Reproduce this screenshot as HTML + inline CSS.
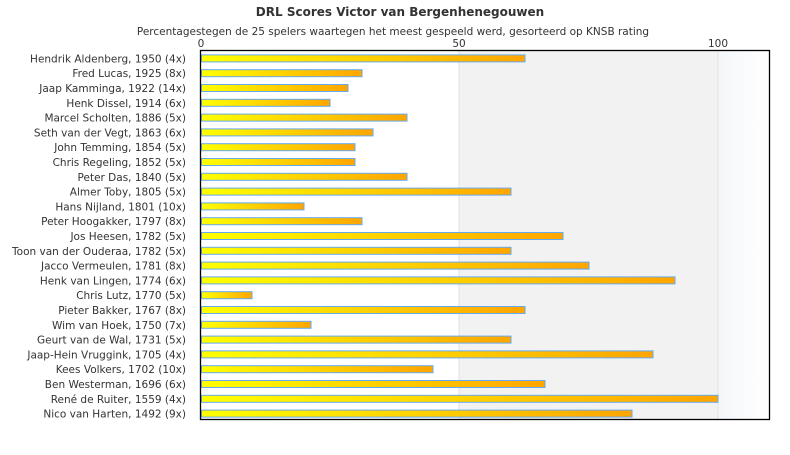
<!DOCTYPE html>
<html><head><meta charset="utf-8"><style>
body{margin:0;background:#fff;}
svg text{font-family:"DejaVu Sans","Liberation Sans",sans-serif;}
</style></head><body>
<svg width="790" height="450" xmlns="http://www.w3.org/2000/svg">
<defs>
<linearGradient id="g" x1="0" x2="1" y1="0" y2="0"><stop offset="0" stop-color="#ffff00"/><stop offset="1" stop-color="#ffa500"/></linearGradient>
<linearGradient id="b" x1="0" x2="1" y1="0" y2="0"><stop offset="0" stop-color="#f4f7fa"/><stop offset="1" stop-color="#ffffff"/></linearGradient>
</defs>
<text x="400" y="16" font-size="12" font-weight="bold" text-anchor="middle" fill="#333">DRL Scores Victor van Bergenhenegouwen</text>
<text x="393" y="35" font-size="10.5" text-anchor="middle" fill="#333">Percentagestegen de 25 spelers waartegen het meest gespeeld werd, gesorteerd op KNSB rating</text>
<rect x="459" y="50" width="259" height="370" fill="#f2f2f2"/>
<rect x="718" y="50" width="52" height="370" fill="url(#b)"/>
<line x1="459" y1="50" x2="459" y2="420" stroke="#e0e0e0"/>
<line x1="718" y1="50" x2="718" y2="420" stroke="#e0e0e0"/>
<text x="201" y="47" font-size="10.5" text-anchor="middle" fill="#333">0</text>
<text x="459" y="47" font-size="10.5" text-anchor="middle" fill="#333">50</text>
<text x="718" y="47" font-size="10.5" text-anchor="middle" fill="#333">100</text>
<g id="bars" font-size="10.5" fill="#333" text-anchor="end"></g>
<rect x="200.5" y="50.5" width="569" height="369" fill="none" stroke="#000" stroke-width="1.3"/>
</svg>
<script>
var d=[["Hendrik Aldenberg, 1950 (4x)",525],["Fred Lucas, 1925 (8x)",362],["Jaap Kamminga, 1922 (14x)",348],["Henk Dissel, 1914 (6x)",330],["Marcel Scholten, 1886 (5x)",407],["Seth van der Vegt, 1863 (6x)",373],["John Temming, 1854 (5x)",355],["Chris Regeling, 1852 (5x)",355],["Peter Das, 1840 (5x)",407],["Almer Toby, 1805 (5x)",511],["Hans Nijland, 1801 (10x)",304],["Peter Hoogakker, 1797 (8x)",362],["Jos Heesen, 1782 (5x)",563],["Toon van der Ouderaa, 1782 (5x)",511],["Jacco Vermeulen, 1781 (8x)",589],["Henk van Lingen, 1774 (6x)",675],["Chris Lutz, 1770 (5x)",252],["Pieter Bakker, 1767 (8x)",525],["Wim van Hoek, 1750 (7x)",311],["Geurt van de Wal, 1731 (5x)",511],["Jaap-Hein Vruggink, 1705 (4x)",653],["Kees Volkers, 1702 (10x)",433],["Ben Westerman, 1696 (6x)",545],["René de Ruiter, 1559 (4x)",718],["Nico van Harten, 1492 (9x)",632]];
var g=document.getElementById("bars"),ns="http://www.w3.org/2000/svg",h="";
d.forEach(function(r,i){var c=50+14.8*(i+0.5)+1;
h+='<rect x="201.5" y="'+(c-3.5)+'" width="'+(r[1]-201.5)+'" height="7" fill="url(#g)" stroke="#66aaee" stroke-width="1"/>';
h+='<text x="186" y="'+(c+4)+'">'+r[0]+'</text>';});
g.innerHTML=h;
</script>
</body></html>
